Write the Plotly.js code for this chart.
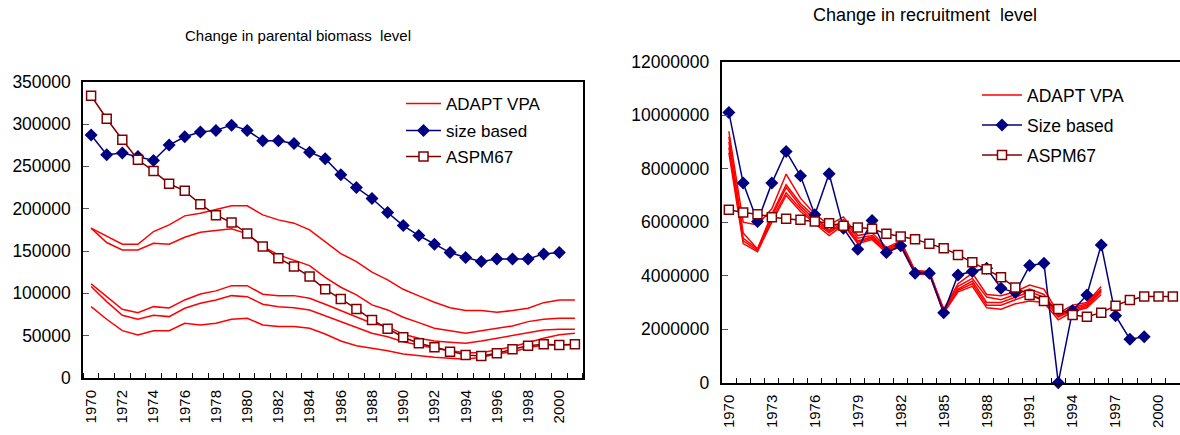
<!DOCTYPE html>
<html>
<head>
<meta charset="utf-8">
<script src="https://cdn.plot.ly/plotly-3.0.1.min.js"></script>
<style>
  html, body { margin: 0; padding: 0; background: #fff; }
  #chart { width: 1180px; height: 435px; }
</style>
</head>
<body>
<div id="chart"></div>
<script>
// ---------- Left chart: parental biomass ----------
const yearsLeft = [1970,1971,1972,1973,1974,1975,1976,1977,1978,1979,1980,1981,1982,1983,1984,1985,1986,1987,1988,1989,1990,1991,1992,1993,1994,1995,1996,1997,1998,1999,2000,2001];
const biomassSizeYears = yearsLeft.slice(0, 31);
const biomassSizeBased = [287000,263700,265700,261700,257000,275100,285000,290500,292500,298700,292500,280200,280200,277100,266800,259000,240000,225000,212000,195500,180100,168300,158000,148200,142300,137500,140700,140700,140700,146600,148200];
const biomassASPM67 = [333400,306200,281400,257800,244400,229400,221100,205300,192300,183700,170700,155300,141500,131600,119800,104800,93400,81600,68600,58300,48100,41000,36300,31100,27200,26000,29200,33900,38200,39800,39000,39800];
const biomassVPA1 = [177000,167100,158000,158000,173000,180900,191500,194700,199400,203400,203400,192700,186800,182900,175000,161200,147000,137500,125000,115900,104800,97000,89500,83100,79600,79600,77600,79600,82400,89000,92200,92200];
const biomassVPA2 = [177000,160000,151300,151300,159200,158000,166300,172200,174200,176200,170300,155300,145400,139500,132800,119000,107200,98100,86300,80400,71800,65400,58700,55900,52800,55900,58700,61500,66600,69400,70600,70600];
const biomassVPA3 = [111100,96100,81200,77200,84300,82800,92200,99300,102900,109100,109100,98900,97300,97300,94200,87100,79600,72500,64600,60700,51600,46900,43700,42200,41000,43700,46900,49700,52800,56800,57600,57600];
const biomassVPA4 = [108000,90200,74100,69400,74100,72500,82400,88300,92200,97300,96100,87100,84300,83100,80400,73300,66600,59900,52800,48800,42900,39000,35100,32300,29900,29900,33100,37000,42000,47000,51000,52800];
const biomassVPA5 = [84300,69400,55900,50800,55900,55900,64600,62700,64600,69400,70600,62700,60700,60700,58700,52000,43700,38200,35100,32300,28400,26000,24400,23200,22100,24400,28400,31100,35800,39000,39000,39400];
const leftTickYears = [1970,1972,1974,1976,1978,1980,1982,1984,1986,1988,1990,1992,1994,1996,1998,2000];

// ---------- Right chart: recruitment ----------
const yearsRight = yearsLeft.slice();
const recruitSizeYears = yearsRight.slice(0, 30);
const recruitSizeBased = [10103000,7461000,6024000,7461000,8644000,7734000,6275000,7809000,5777000,4991000,6062000,4864000,5115000,4093000,4093000,2619000,4030000,4153000,4280000,3532000,3368000,4378000,4468000,0,2694000,3282000,5152000,2507000,1624000,1721000];
const recruitASPM67 = [6462000,6361000,6301000,6189000,6125000,6088000,6024000,5964000,5863000,5800000,5751000,5564000,5463000,5366000,5190000,5029000,4778000,4505000,4243000,3944000,3555000,3282000,3057000,2758000,2533000,2470000,2619000,2881000,3094000,3218000,3218000,3218000];
const recruitVPAYears = yearsRight.slice(0, 27);
const recruitVPA1 = [9400000,6000000,5900000,6500000,7800000,6900000,6300000,5900000,6200000,5500000,5600000,5050000,5300000,4200000,4150000,2750000,3700000,4100000,3300000,3250000,3400000,3650000,3500000,2600000,2900000,3000000,3600000];
const recruitVPA2 = [9200000,5600000,5000000,6300000,7400000,6700000,6200000,5700000,6100000,5400000,5500000,5000000,5250000,4150000,4150000,2700000,3600000,3900000,3200000,3100000,3300000,3500000,3300000,2550000,2800000,2950000,3500000];
const recruitVPA3 = [9000000,5400000,5000000,6200000,7300000,6600000,6100000,5650000,6000000,5300000,5450000,4950000,5200000,4100000,4100000,2650000,3500000,3800000,3000000,3000000,3200000,3400000,3200000,2500000,2750000,2900000,3450000];
const recruitVPA4 = [8800000,5300000,4950000,6100000,7100000,6500000,6000000,5600000,5950000,5250000,5400000,4900000,5150000,4100000,4100000,2650000,3450000,3700000,2900000,2900000,3100000,3300000,3100000,2450000,2700000,2850000,3400000];
const recruitVPA5 = [8600000,5200000,4900000,6000000,7000000,6400000,5950000,5500000,5900000,5200000,5350000,4850000,5100000,4050000,4050000,2600000,3400000,3600000,2800000,2750000,2950000,3050000,3000000,2350000,2650000,2800000,3300000];
const rightTickYears = [1970,1973,1976,1979,1982,1985,1988,1991,1994,1997,2000];

const RED = '#ff0000', NAVY = '#000080', MAROON = '#800000';
const FONT = 'Liberation Sans, Arial, sans-serif';

function vpa(x, y, xa, ya, leg, show) {
  return {x: x, y: y, xaxis: xa, yaxis: ya, type: 'scatter', mode: 'lines',
    name: 'ADAPT VPA', legend: leg, showlegend: show,
    line: {color: RED, width: 1.5}, hoverinfo: 'skip'};
}

const traces = [
  vpa(yearsLeft, biomassVPA1, 'x', 'y', 'legend', true),
  vpa(yearsLeft, biomassVPA2, 'x', 'y', 'legend', false),
  vpa(yearsLeft, biomassVPA3, 'x', 'y', 'legend', false),
  vpa(yearsLeft, biomassVPA4, 'x', 'y', 'legend', false),
  vpa(yearsLeft, biomassVPA5, 'x', 'y', 'legend', false),
  {x: biomassSizeYears, y: biomassSizeBased, xaxis: 'x', yaxis: 'y', type: 'scatter', mode: 'lines+markers',
   name: 'size based', legend: 'legend2', line: {color: NAVY, width: 1.5},
   marker: {symbol: 'diamond', size: 10, color: NAVY}},
  {x: yearsLeft, y: biomassASPM67, xaxis: 'x', yaxis: 'y', type: 'scatter', mode: 'lines+markers',
   name: 'ASPM67', legend: 'legend3', line: {color: MAROON, width: 1.5},
   marker: {symbol: 'square', size: 9, color: '#ffffff', line: {color: MAROON, width: 1.5}}},

  vpa(recruitVPAYears, recruitVPA1, 'x2', 'y2', 'legend4', true),
  vpa(recruitVPAYears, recruitVPA2, 'x2', 'y2', 'legend4', false),
  vpa(recruitVPAYears, recruitVPA3, 'x2', 'y2', 'legend4', false),
  vpa(recruitVPAYears, recruitVPA4, 'x2', 'y2', 'legend4', false),
  vpa(recruitVPAYears, recruitVPA5, 'x2', 'y2', 'legend4', false),
  {x: recruitSizeYears, y: recruitSizeBased, xaxis: 'x2', yaxis: 'y2', type: 'scatter', mode: 'lines+markers',
   name: 'Size based', legend: 'legend5', cliponaxis: false, line: {color: NAVY, width: 1.5},
   marker: {symbol: 'diamond', size: 10, color: NAVY}},
  {x: yearsRight, y: recruitASPM67, xaxis: 'x2', yaxis: 'y2', type: 'scatter', mode: 'lines+markers',
   name: 'ASPM67', legend: 'legend6', line: {color: MAROON, width: 1.5},
   marker: {symbol: 'square', size: 9, color: '#ffffff', line: {color: MAROON, width: 1.5}}}
];

function xAxis(domain, tickYears, anchor) {
  return {
    domain: domain, anchor: anchor, range: [1969.5, 2001.5],
    tickmode: 'array', tickvals: tickYears, ticktext: tickYears.map(String),
    ticks: '', tickangle: -90, ticklabelstandoff: 4, tickfont: {family: FONT, size: 15, color: '#000'},
    minor: {tickmode: 'linear', tick0: 1969.5, dtick: 1, ticks: 'inside', ticklen: 5, tickwidth: 1, tickcolor: '#000', showgrid: false},
    showline: true, linecolor: '#000', linewidth: 2, mirror: true,
    showgrid: false, zeroline: false, fixedrange: true
  };
}
function yAxis(domain, max, dtick, anchor, mirror) {
  return {
    domain: domain, anchor: anchor, range: [0, max], tickmode: 'linear', tick0: 0, dtick: dtick,
    tickformat: 'd', ticks: 'inside', ticklen: 6, tickwidth: 1, tickcolor: '#555',
    ticklabelstandoff: 7, tickfont: {family: FONT, size: 17.5, color: '#000'},
    showline: true, linecolor: '#000', linewidth: 2, mirror: mirror,
    showgrid: false, zeroline: false, fixedrange: true
  };
}

function leg(xPx, yPx, size, itemw) {
  return {x: xPx/1180, xanchor: 'left', y: (435-yPx)/435, yanchor: 'middle',
    bgcolor: 'rgba(0,0,0,0)', itemwidth: itemw, font: {family: FONT, size: size, color: '#000'}};
}

const layout = {
  width: 1180, height: 435,
  margin: {l: 0, r: 0, t: 0, b: 0},
  paper_bgcolor: '#fff', plot_bgcolor: '#fff',
  font: {family: FONT, color: '#000'},
  xaxis: xAxis([83.3/1180, 582.7/1180], leftTickYears, 'y'),
  yaxis: yAxis([57/435, 353.3/435], 350000, 50000, 'x', true),
  xaxis2: xAxis([721.7/1180, 1], rightTickYears, 'y2'),
  yaxis2: yAxis([52.3/435, 373.3/435], 12000000, 2000000, 'x2', false),
  legend:  leg(401, 104, 17, 35),
  legend2: leg(401, 131, 17, 35),
  legend3: leg(401, 157, 17, 35),
  legend4: leg(977, 95, 17.5, 40),
  legend5: leg(977, 125, 17.5, 40),
  legend6: leg(977, 155, 17.5, 40),
  annotations: [
    {text: 'Change in parental biomass  level', xref: 'paper', yref: 'paper',
     x: 298/1180, y: (435-35)/435, xanchor: 'center', yanchor: 'middle', showarrow: false,
     font: {family: FONT, size: 15, color: '#000'}},
    {text: 'Change in recruitment  level', xref: 'paper', yref: 'paper',
     x: 925/1180, y: (435-15)/435, xanchor: 'center', yanchor: 'middle', showarrow: false,
     font: {family: FONT, size: 18, color: '#000'}}
  ]
};

Plotly.newPlot('chart', traces, layout, {displayModeBar: false, staticPlot: true});
</script>
</body>
</html>
